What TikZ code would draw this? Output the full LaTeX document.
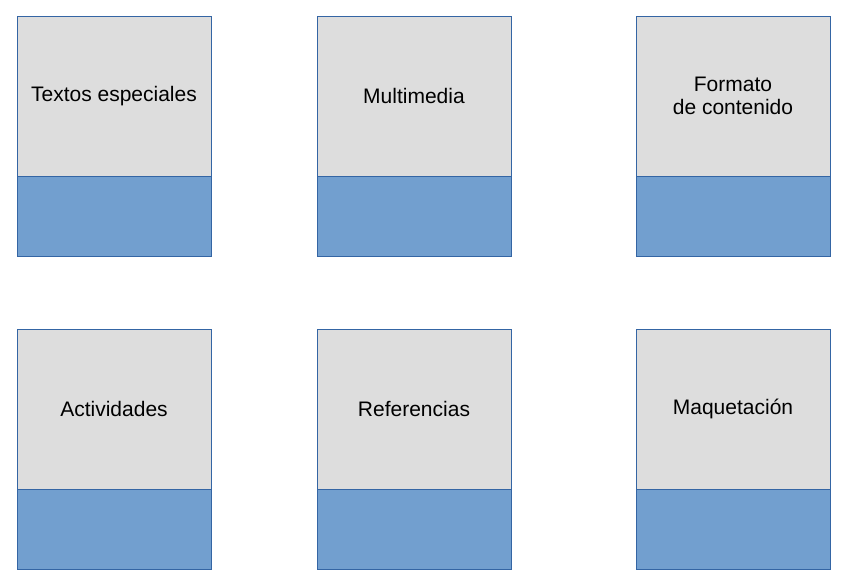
\documentclass[tikz,border=0pt]{standalone}
\usepackage{fontspec}
\setmainfont{Liberation Sans}
\usetikzlibrary{positioning}
\definecolor{cajagris}{HTML}{DDDDDD}
\definecolor{cajaazul}{HTML}{729FCF}
\definecolor{borde}{HTML}{3465A4}
\tikzset{
arriba/.style={draw=borde, line width=0.8pt, fill=cajagris, minimum width=194pt, minimum height=160pt, outer sep=0pt, align=center, inner sep=0pt, font=\fontsize{21}{23}\selectfont},
abajo/.style={draw=borde, line width=0.8pt, fill=cajaazul, minimum width=194pt, minimum height=80pt, outer sep=0pt}
}
\begin{document}
\begin{tikzpicture}
\useasboundingbox (0,0) rectangle (846pt,-582pt);
\node[arriba] (c1) at (114pt,-96pt) {Textos especiales};
\node[arriba, right=106pt of c1] (c2) {Multimedia};
\node[arriba, right=125pt of c2] (c3) {Formato\\de contenido};
\node[abajo, below=0pt of c1] (c1b) {};
\node[abajo, below=0pt of c2] (c2b) {};
\node[abajo, below=0pt of c3] (c3b) {};
\node[arriba, below=73pt of c1b] (c4) {Actividades};
\node[arriba, below=73pt of c2b] (c5) {Referencias};
\node[arriba, below=73pt of c3b] (c6) {Maquetación};
\node[abajo, below=0pt of c4] (c4b) {};
\node[abajo, below=0pt of c5] (c5b) {};
\node[abajo, below=0pt of c6] (c6b) {};
\end{tikzpicture}
\end{document}
